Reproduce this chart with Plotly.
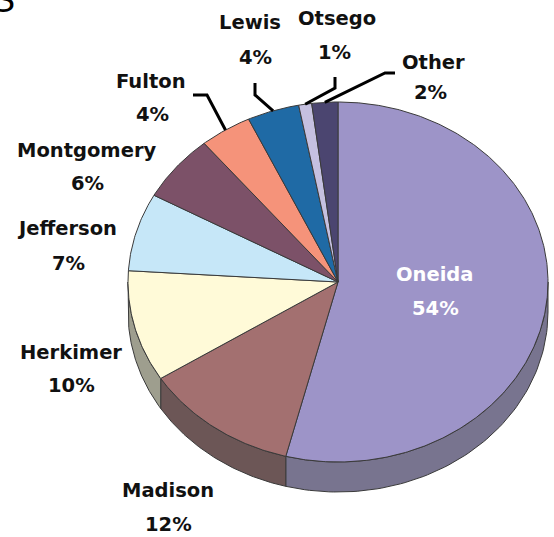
import numpy as np
import plotly.graph_objects as go

# ---- data ----
counties = ["Oneida", "Madison", "Herkimer", "Jefferson", "Montgomery",
            "Fulton", "Lewis", "Otsego", "Other"]
shares = [54, 12, 10, 7, 6, 4, 4, 1, 2]

# ---- styles ----
top_colors = ["#9d94c8", "#a37070", "#fffad8", "#c6e7f8", "#7c5168",
              "#f5937a", "#1f6aa5", "#c5c0e0", "#4b4570"]
side_colors = ["#78748f", "#6c5656", "#9e9e8e", "#8fa6b2", "#5a3b4b",
               "#b06a58", "#164c77", "#8e8aa2", "#363250"]

W, H = 554, 537
CX, CY, RX, RY, DEPTH = 338, 282, 210, 180, 30

# label layout: (name x, name y, pct x, pct y, color)
label_pos = {
    "Oneida": (435, 274, 435, 308, "white"),
    "Madison": (168, 490, 168, 524, "#111111"),
    "Herkimer": (71, 352, 71, 385, "#111111"),
    "Jefferson": (67, 228, 68, 263, "#111111"),
    "Montgomery": (87, 150, 87, 183, "#111111"),
    "Fulton": (151, 81, 152, 114, "#111111"),
    "Lewis": (250, 22, 255, 57, "#111111"),
    "Otsego": (337, 18, 334, 52, "#111111"),
    "Other": (433, 62, 430, 92, "#111111"),
}
# leader-line elbows (start, elbow)
leader = {
    "Fulton": [(193, 95), (207, 95)],
    "Lewis": [(255, 83), (255, 95)],
    "Otsego": [(335, 77), (335, 88)],
    "Other": [(395, 73), (385, 73)],
}


def ell(t_deg, dy=0.0):
    t = np.radians(t_deg)
    return CX + RX * np.sin(t), CY - RY * np.cos(t) + dy


total = float(sum(shares))
bounds = np.concatenate([[0], np.cumsum(shares)]) / total * 360.0

fig = go.Figure()

# side walls (front half: t in [90, 270])
for i, name in enumerate(counties):
    a0, a1 = bounds[i], bounds[i + 1]
    lo, hi = max(a0, 90), min(a1, 270)
    if hi <= lo:
        continue
    ts = np.linspace(lo, hi, 80)
    xt, yt = ell(ts)
    xb, yb = ell(ts[::-1], DEPTH)
    xs = np.concatenate([xt, xb, xt[:1]])
    ys = np.concatenate([yt, yb, yt[:1]])
    fig.add_trace(go.Scatter(x=xs, y=ys, mode="lines", fill="toself",
                             fillcolor=side_colors[i],
                             line=dict(color="#3a3a3a", width=1),
                             hoverinfo="skip", showlegend=False))

# top faces
for i, name in enumerate(counties):
    a0, a1 = bounds[i], bounds[i + 1]
    ts = np.linspace(a0, a1, max(4, int((a1 - a0) * 2)))
    xa, ya = ell(ts)
    xs = np.concatenate([[CX], xa, [CX]])
    ys = np.concatenate([[CY], ya, [CY]])
    fig.add_trace(go.Scatter(x=xs, y=ys, mode="lines", fill="toself",
                             fillcolor=top_colors[i],
                             line=dict(color="#3a3a3a", width=1),
                             name=name, hoverinfo="name", showlegend=False))

# leader lines
for i, name in enumerate(counties):
    if name not in leader:
        continue
    mid = (bounds[i] + bounds[i + 1]) / 2
    mx, my = ell(mid)
    pts = leader[name] + [(mx, my)]
    fig.add_trace(go.Scatter(x=[p[0] for p in pts], y=[p[1] for p in pts],
                             mode="lines", line=dict(color="black", width=3),
                             hoverinfo="skip", showlegend=False))

# labels
for name, v in zip(counties, shares):
    nx, ny, px, py, col = label_pos[name]
    for txt, x, y in [(name, nx, ny), (f"{v}%", px, py)]:
        fig.add_annotation(x=x, y=y, xref="x", yref="y", text=txt,
                           showarrow=False, xanchor="center", yanchor="middle",
                           font=dict(family="DejaVu Sans", size=19.5,
                                     color=col, weight="bold"))

# clipped title fragment at top-left (cut off in the reference too)
fig.add_annotation(x=3, y=22, xref="x", yref="y", text="S", showarrow=False,
                   xanchor="center", yanchor="bottom",
                   font=dict(family="Liberation Sans", size=36, color="black"))

fig.update_xaxes(range=[0, W], visible=False, fixedrange=True)
fig.update_yaxes(range=[H, 0], visible=False, fixedrange=True)
fig.update_layout(width=W, height=H, margin=dict(l=0, r=0, t=0, b=0),
                  paper_bgcolor="white", plot_bgcolor="white")

fig.write_html("out.html",
               config={"displayModeBar": False},
               post_script="document.body.style.margin='0';"
                           "document.body.style.overflow='hidden';")
